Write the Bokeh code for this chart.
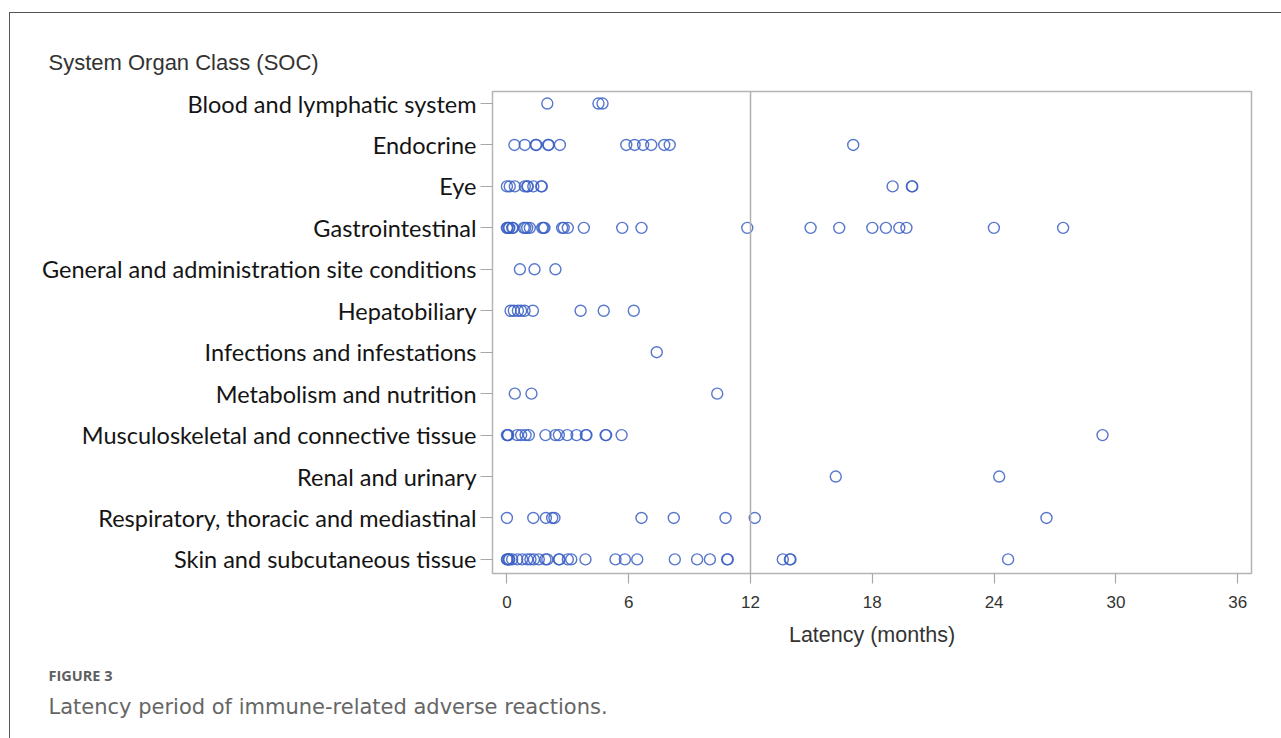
from bokeh.plotting import figure
from bokeh.models import Span, FixedTicker, ColumnDataSource, Range1d, Title
from bokeh.embed import file_html
from bokeh.resources import INLINE

categories = [
    "Blood and lymphatic system",
    "Endocrine",
    "Eye",
    "Gastrointestinal",
    "General and administration site conditions",
    "Hepatobiliary",
    "Infections and infestations",
    "Metabolism and nutrition",
    "Musculoskeletal and connective tissue",
    "Renal and urinary",
    "Respiratory, thoracic and mediastinal",
    "Skin and subcutaneous tissue",
]

blood = [1.99, 4.51, 4.71]
endocrine = [0.37, 0.88, 1.42, 1.45, 2.03, 2.06, 2.61, 5.88, 6.29, 6.71, 7.11, 7.75, 8.02, 17.06]
eye = [0.0, 0.14, 0.39, 0.88, 1.0, 1.03, 1.3, 1.69, 1.72, 19.0, 19.95, 19.97]
gastro = [0.0, 0.02, 0.09, 0.12, 0.26, 0.3, 0.83, 0.9, 1.0, 1.13, 1.74, 1.8, 1.85, 2.72, 2.8, 3.0,
          3.79, 5.68, 6.63, 11.84, 14.96, 16.37, 18.0, 18.67, 19.33, 19.68, 23.99, 27.4]
general = [0.64, 1.36, 2.39]
hepato = [0.18, 0.34, 0.54, 0.7, 0.87, 1.28, 3.63, 4.77, 6.25]
infections = [7.38]
metabolism = [0.39, 1.21, 10.36]
musculo = [0.0, 0.04, 0.06, 0.51, 0.7, 0.92, 1.08, 1.9, 2.39, 2.56, 2.97, 3.43, 3.89, 3.92,
           4.86, 4.89, 5.65, 29.34]
renal = [16.2, 24.25]
respiratory = [0.0, 1.3, 1.92, 2.23, 2.34, 6.63, 8.22, 10.77, 12.21, 26.58]
skin = [0.0, 0.03, 0.09, 0.12, 0.26, 0.51, 0.75, 1.0, 1.16, 1.33, 1.57, 1.9, 1.99, 2.56, 2.59,
        3.0, 3.17, 3.87, 5.35, 5.81, 6.42, 8.27, 9.37, 10.0, 10.85, 10.88, 13.59, 13.94, 13.97, 24.69]

series = [blood, endocrine, eye, gastro, general, hepato, infections, metabolism,
          musculo, renal, respiratory, skin]

x_ticks = [0, 6, 12, 18, 24, 30, 36]
ref_month = 12

n = len(categories)
xs, ys = [], []
for i, vals in enumerate(series):
    for v in vals:
        xs.append(v)
        ys.append(n - 1 - i)
src = ColumnDataSource(dict(x=xs, y=ys))

p = figure(
    frame_width=759, frame_height=482,
    min_border_left=492, min_border_right=30, min_border_top=91, min_border_bottom=165,
    x_range=Range1d(-0.71, 36.68), y_range=Range1d(-0.34, 11.29),
    output_backend="svg", toolbar_location=None, tools="",
)
p.grid.visible = False
p.outline_line_color = "#b4b4b4"
p.outline_line_width = 1.5
p.background_fill_color = "white"
p.border_fill_color = None
p.styles = {
    "background": "linear-gradient(#555555, #555555) 9px 12px / 1px 3000px no-repeat, "
                  "linear-gradient(#555555, #555555) 9px 12px / 3000px 1px no-repeat, white",
}

p.add_layout(Span(location=ref_month, dimension="height", line_color="#b0b0b0", line_width=1.5))

p.scatter("x", "y", source=src, marker="circle", size=11, fill_color=None,
          line_color="#3a5fc4", line_width=1.4, line_alpha=0.85)

xa = p.xaxis[0]
xa.ticker = FixedTicker(ticks=x_ticks)
xa.axis_line_color = None
xa.major_tick_line_color = "#a8a8a8"
xa.major_tick_line_width = 1.2
xa.major_tick_out = 10
xa.major_tick_in = 0
xa.minor_tick_line_color = None
xa.major_label_standoff = 12
xa.major_label_text_font = "Liberation Sans"
xa.major_label_text_font_size = "17px"
xa.major_label_text_color = "#333333"
xa.axis_label = "Latency (months)"
xa.axis_label_text_font = "Liberation Sans"
xa.axis_label_text_font_style = "normal"
xa.axis_label_text_font_size = "21.5px"
xa.axis_label_text_color = "#333333"
xa.axis_label_standoff = 12

ya = p.yaxis[0]
ya.ticker = FixedTicker(ticks=list(range(n)))
ya.major_label_overrides = {n - 1 - i: c for i, c in enumerate(categories)}
ya.axis_line_color = None
ya.major_tick_line_color = "#a8a8a8"
ya.major_tick_line_width = 1.2
ya.major_tick_out = 12
ya.major_tick_in = 0
ya.minor_tick_line_color = None
ya.major_label_standoff = 4
ya.major_label_text_font = "Lato"
ya.major_label_text_font_size = "23.5px"
ya.major_label_text_color = "#141414"

# heading above the plot
p.title.text = "System Organ Class (SOC)"
p.title.align = "left"
p.title.offset = -444
p.title.standoff = 34
p.title.text_font = "Liberation Sans"
p.title.text_font_style = "normal"
p.title.text_font_size = "22px"
p.title.text_color = "#333333"

# caption below
cap1 = Title(text="FIGURE 3", align="left", offset=-444, standoff=29,
             text_font="Open Sans", text_font_style="bold", text_font_size="14.5px",
             text_color="#5f5f5f")
try:
    cap2 = Title(text="Latency period of immune-related adverse reactions.", align="left",
                 offset=-444, standoff=-14, text_font="DejaVu Sans", text_font_style="normal",
                 text_font_size="21px", text_color="#666666")
except Exception:
    cap2 = Title(text="Latency period of immune-related adverse reactions.", align="left",
                 offset=-444, standoff=0, text_font="DejaVu Sans", text_font_style="normal",
                 text_font_size="21px", text_color="#666666")
p.add_layout(cap1, "below")
p.add_layout(cap2, "below")

open("out.html", "w").write(file_html(p, INLINE))
